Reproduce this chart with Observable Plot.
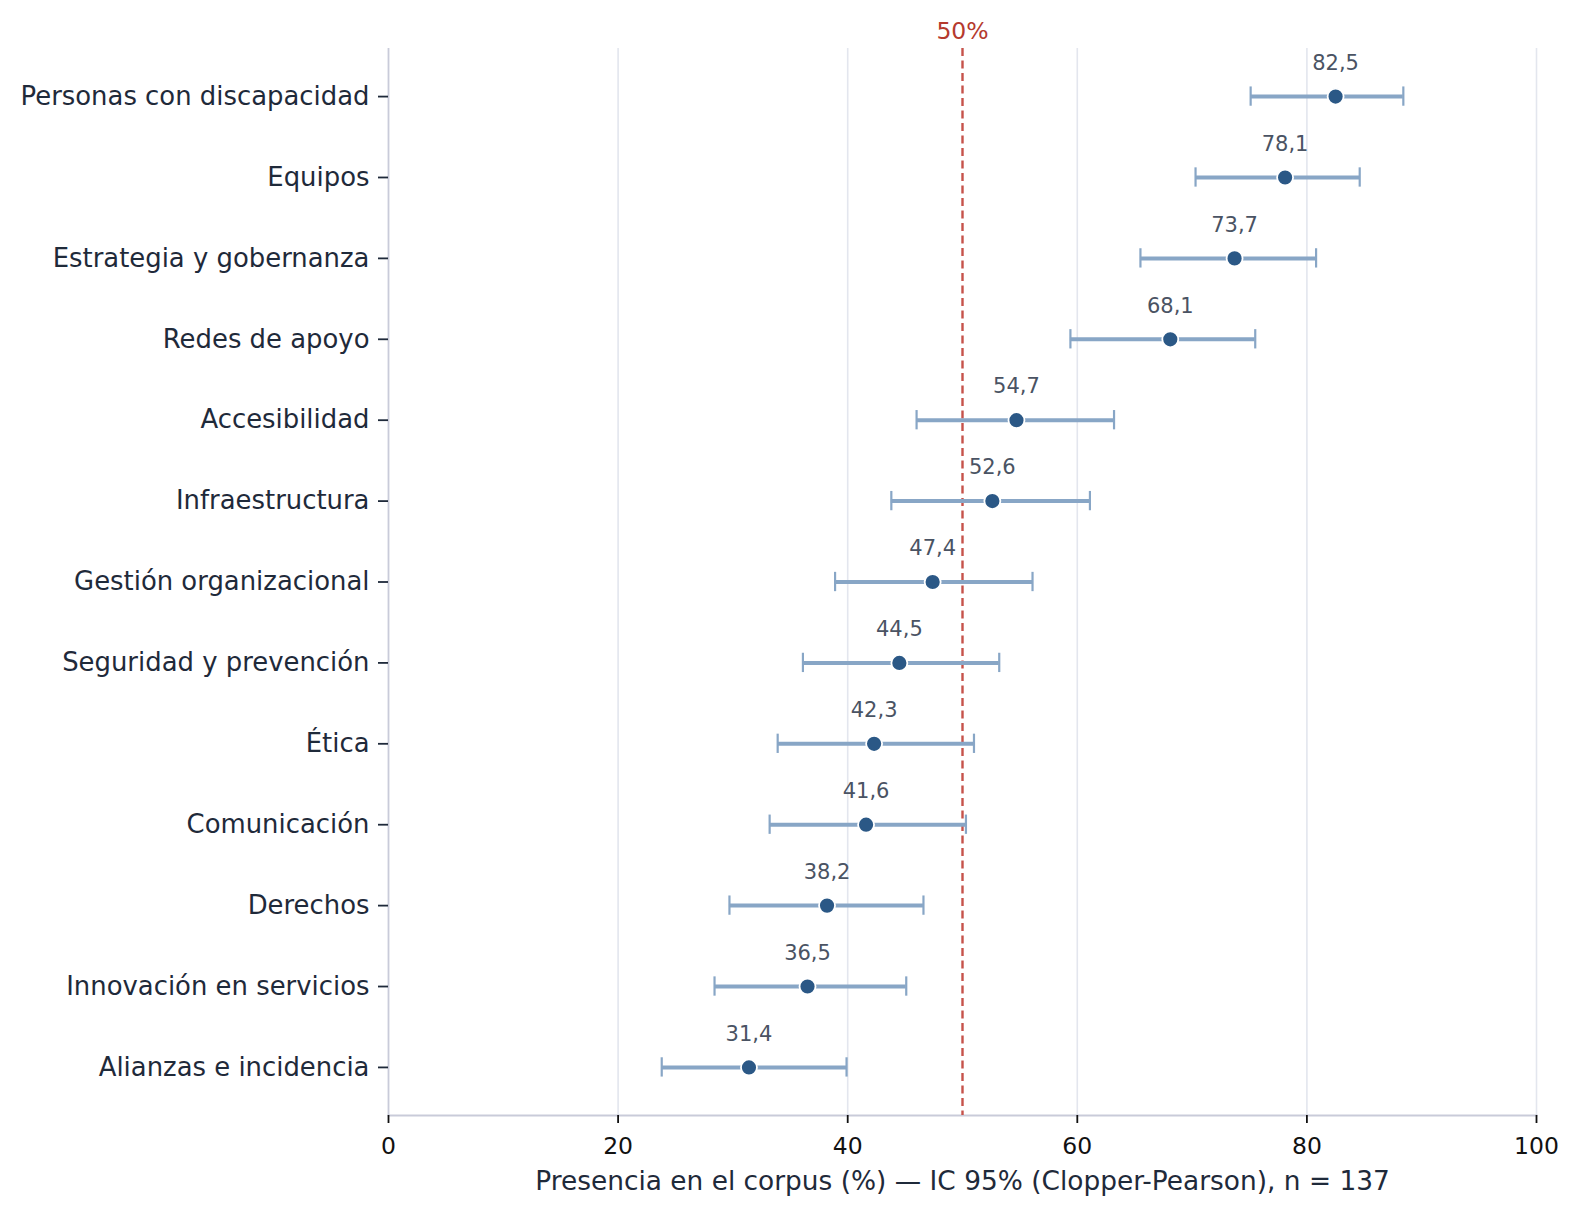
<!DOCTYPE html>
<html>
<head>
<meta charset="utf-8">
<script src="https://cdn.jsdelivr.net/npm/d3@7"></script>
<script src="https://cdn.jsdelivr.net/npm/@observablehq/plot@0.6"></script>
<style>
  html, body { margin: 0; padding: 0; background: #fff; overflow: hidden; width: 1579px; height: 1216px; }
  #chart { width: 1579px; height: 1216px; overflow: hidden; }
  #chart svg { font-family: "DejaVu Sans", sans-serif; display: block; }
</style>
</head>
<body>
<div id="chart"></div>
<script>
const categories = ["Personas con discapacidad", "Equipos", "Estrategia y gobernanza", "Redes de apoyo", "Accesibilidad", "Infraestructura", "Gestión organizacional", "Seguridad y prevención", "Ética", "Comunicación", "Derechos", "Innovación en servicios", "Alianzas e incidencia"];
const values = [82.5, 78.1, 73.7, 68.1, 54.7, 52.6, 47.4, 44.5, 42.3, 41.6, 38.2, 36.5, 31.4];
const lows   = [75.1, 70.3, 65.5, 59.4, 46.0, 43.8, 38.9, 36.1, 33.9, 33.2, 29.7, 28.4, 23.8];
const highs  = [88.4, 84.6, 80.8, 75.5, 63.2, 61.1, 56.1, 53.2, 51.0, 50.3, 46.6, 45.1, 39.9];
const xTicks = [0, 20, 40, 60, 80, 100];
const gridTicks = [20, 40, 60, 80, 100];
const threshold = 50;
const xLabel = "Presencia en el corpus (%) — IC 95% (Clopper-Pearson), n = 137";

const data = categories.map((c, i) => ({cat: c, v: values[i], lo: lows[i], hi: highs[i]}));
const fmt = v => v.toFixed(1).replace(".", ",");

const chart = Plot.plot({
  width: 1579,
  height: 1216,
  marginLeft: 388,
  marginRight: 43,
  marginTop: 48,
  marginBottom: 101,
  style: {fontFamily: "DejaVu Sans, sans-serif", background: "#fff", maxWidth: "none", width: "1579px", height: "1216px"},
  x: {domain: [0, 100]},
  y: {domain: categories, type: "band", paddingInner: 0.7614, paddingOuter: 0.475, round: false},
  marks: [
    Plot.ruleX(gridTicks, {stroke: "#e3e6ee", strokeWidth: 1.6}),
    Plot.ruleX([0], {stroke: "#c9cbd9", strokeWidth: 1.8}),
    Plot.frame({anchor: "bottom", stroke: "#c9cbd9", strokeWidth: 1.8}),
    Plot.ruleX([threshold], {stroke: "#c6524a", strokeWidth: 2.4, strokeDasharray: "8,4.5"}),
    Plot.text([threshold], {x: d => d, frameAnchor: "top", dy: -17.5, text: d => d + "%", fill: "#b53a2e", fontSize: 23.5, lineAnchor: "middle"}),
    Plot.ruleY(data, {y: "cat", x1: "lo", x2: "hi", stroke: "#88a6c6", strokeWidth: 4}),
    Plot.tickX(data, {x: "lo", y: "cat", stroke: "#88a6c6", strokeWidth: 2.2}),
    Plot.tickX(data, {x: "hi", y: "cat", stroke: "#88a6c6", strokeWidth: 2.2}),
    Plot.dot(data, {x: "v", y: "cat", r: 8, fill: "#2b5886", stroke: "white", strokeWidth: 1.8}),
    Plot.text(data, {x: "v", y: "cat", text: d => fmt(d.v), dy: -33.5, fill: "#4a5363", fontSize: 21}),
    Plot.axisY({tickSize: 10, tickPadding: 9, fontSize: 25.9, color: "#1f2a3a", stroke: "#1f2a3a", strokeWidth: 1.8, strokeOpacity: 1, label: null}),
    Plot.axisX({ticks: xTicks, tickSize: 8, tickPadding: 14, fontSize: 23.5, color: "#111", stroke: "#111", strokeWidth: 1.8, strokeOpacity: 1, label: null}),
    Plot.text([xLabel], {frameAnchor: "bottom", dy: 66, text: d => d, fill: "#1f2a3a", fontSize: 26.4, lineAnchor: "middle"})
  ]
});
document.getElementById("chart").appendChild(chart);
</script>
</body>
</html>
